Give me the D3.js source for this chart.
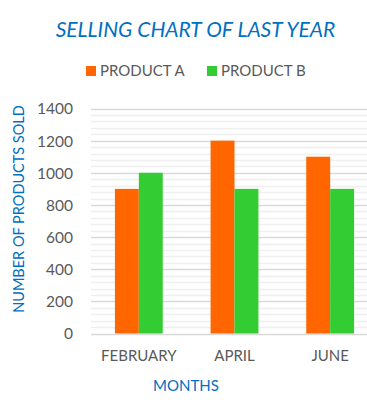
<!DOCTYPE html>
<html>
<head>
<meta charset="utf-8">
<script src="https://cdn.jsdelivr.net/npm/d3@7"></script>
<style>
  body { margin: 0; background: #fff; }
  text { font-family: Lato, "Open Sans", sans-serif; }
</style>
</head>
<body>
<script>
const months = ['FEBRUARY', 'APRIL', 'JUNE']
const productA = [900, 1200, 1100]
const productB = [1000, 900, 900]
const seriesNames = ['PRODUCT A', 'PRODUCT B']
const yTicks = [0, 200, 400, 600, 800, 1000, 1200, 1400]

const WIDTH = 367
const HEIGHT = 410
const COLORS = ['#ff6600', '#33cc33']
const BLUE = '#0070c0'
const GREY = '#595959'

const svg = d3.select('body').append('svg').attr('width', WIDTH).attr('height', HEIGHT)

// echelles
const x = d3.scaleBand().domain(months).range([91, 378]).paddingInner(0.5).paddingOuter(0.25)
const xInner = d3.scaleBand().domain([0, 1]).range([0, x.bandwidth()])
const y = d3.scaleLinear().domain([0, 1400]).range([333.5, 108.5])

// grille mineure tous les 40
svg.append('g').selectAll('line')
  .data(d3.range(40, 1400, 40).filter(v => v % 200 !== 0))
  .enter().append('line')
  .attr('x1', 91).attr('x2', WIDTH)
  .attr('y1', d => Math.round(y(d)) + 0.5).attr('y2', d => Math.round(y(d)) + 0.5)
  .attr('stroke', '#efefef').attr('stroke-width', 1.5)

// grille principale
svg.append('g').selectAll('line')
  .data(yTicks)
  .enter().append('line')
  .attr('x1', 91).attr('x2', WIDTH)
  .attr('y1', d => Math.round(y(d)) + 0.5).attr('y2', d => Math.round(y(d)) + 0.5)
  .attr('stroke', '#d9d9d9').attr('stroke-width', 1.5)

// batons
const data = months.map((m, i) => ({ month: m, values: [productA[i], productB[i]] }))
const groups = svg.append('g').selectAll('g')
  .data(data)
  .enter().append('g')
  .attr('transform', d => `translate(${x(d.month)}, 0)`)
groups.selectAll('rect')
  .data(d => d.values)
  .enter().append('rect')
  .attr('x', (d, i) => xInner(i))
  .attr('width', xInner.bandwidth())
  .attr('y', d => y(d))
  .attr('height', d => y(0) - y(d))
  .attr('fill', (d, i) => COLORS[i])

// axe Y
const axisY = d3.axisLeft(y).tickValues(yTicks).tickFormat(d3.format('d')).tickSize(0).tickPadding(0)
svg.append('g')
  .attr('transform', 'translate(73, 0)')
  .call(axisY)
  .call(g => g.select('.domain').remove())
  .call(g => g.selectAll('text').attr('fill', GREY).attr('font-size', 15.5).attr('font-family', 'Lato').attr('dy', '0.35em'))

// axe X
const axisX = d3.axisBottom(x).tickSize(0).tickPadding(0)
svg.append('g')
  .attr('transform', 'translate(0, 350)')
  .call(axisX)
  .call(g => g.select('.domain').remove())
  .call(g => g.selectAll('text').attr('fill', GREY).attr('font-size', 15).attr('font-family', 'Lato'))

// titres
svg.append('text')
  .attr('x', 195.5).attr('y', 37)
  .attr('text-anchor', 'middle')
  .attr('font-style', 'italic')
  .attr('font-size', 21)
  .attr('fill', BLUE)
  .text('SELLING CHART OF LAST YEAR')

svg.append('text')
  .attr('x', 186).attr('y', 391)
  .attr('text-anchor', 'middle')
  .attr('font-size', 15)
  .attr('fill', BLUE)
  .text('MONTHS')

svg.append('text')
  .attr('transform', 'translate(24, 209) rotate(-90)')
  .attr('text-anchor', 'middle')
  .attr('font-size', 14.5)
  .attr('fill', BLUE)
  .text('NUMBER OF PRODUCTS SOLD')

// legende
const legendX = [86, 207]
const legend = svg.append('g').selectAll('g')
  .data(seriesNames)
  .enter().append('g')
  .attr('transform', (d, i) => `translate(${legendX[i]}, 66)`)
legend.append('rect').attr('width', 10).attr('height', 10).attr('fill', (d, i) => COLORS[i])
legend.append('text')
  .attr('x', 14).attr('y', 10)
  .attr('font-size', 15)
  .attr('fill', GREY)
  .text(d => d)
</script>
</body>
</html>
